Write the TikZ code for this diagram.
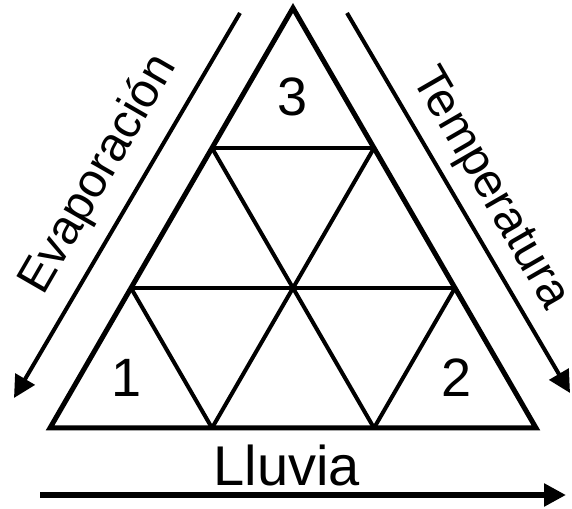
\documentclass[tikz,border=0pt]{standalone}
\usepackage{fontspec}
\setmainfont{Liberation Sans}
\usetikzlibrary{arrows.meta}

\begin{document}
\begin{tikzpicture}[x=1pt,y=1pt,
  outer/.style={line width=5pt,line join=miter},
  inner/.style={line width=4pt},
  flow/.style={line width=4pt,-{Triangle[length=22pt,width=22pt]}},
  num/.style={font=\fontsize{54}{54}\selectfont},
  lbl/.style={font=\fontsize{48}{48}\selectfont}]
\useasboundingbox (0,0) rectangle (572,508);
% corners of the big triangle
\coordinate (bl) at (50,80);
\coordinate (br) at (536,80);
\coordinate (top) at (293,500);
% grid points
\coordinate (b1) at (212,80);
\coordinate (b2) at (374,80);
\coordinate (m1) at (131,220);
\coordinate (m3) at (455,220);
\coordinate (t1) at (212,360);
\coordinate (t2) at (374,360);
\foreach \p/\q in {m1/m3,t1/t2,b1/m1,b1/t2,b2/t1,b2/m3} {
  \draw[inner] (\p) -- (\q);
}
\draw[outer] (bl) -- (br) -- (top) -- cycle;

\node[num] (n1) at (127,130) {1};
\node[num] (n2) at (457,130) {2};
\node[num] (n3) at (293,411) {3};

% the three axes
\coordinate (evS) at (240,495);
\coordinate (evE) at (14,110);
\coordinate (teS) at (347,495);
\coordinate (teE) at (570,115);
\coordinate (luS) at (40,13);
\coordinate (luE) at (566,13);
\draw[flow] (evS) -- (evE);
\draw[flow] (teS) -- (teE);
\draw[flow,line width=6pt] (luS) -- (luE);
\node[lbl,rotate=60] (evap) at (99,333) {Evaporación};
\node[lbl,rotate=-60] (temp) at (489,319) {Temperatura};
\node[font=\fontsize{56}{56}\selectfont,anchor=base] (lluvia) at (287,23) {Lluvia};
\end{tikzpicture}
\end{document}
